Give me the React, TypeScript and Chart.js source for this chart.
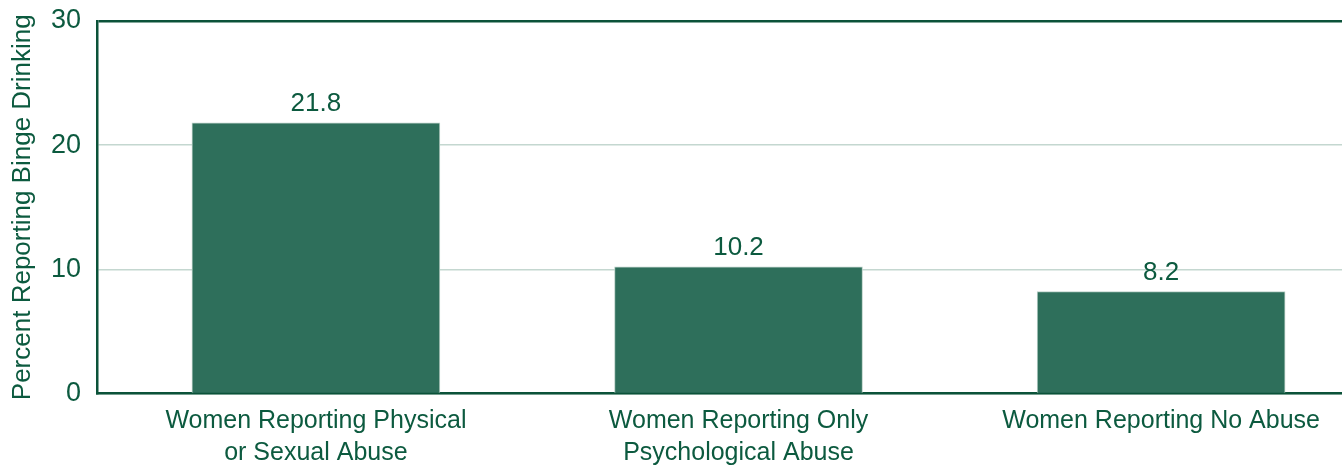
import React, { useEffect, useRef } from "react";
import { Chart, registerables } from "chart.js";

Chart.register(...registerables);

const categoryLabels: string[][] = [
  ["Women Reporting Physical", "or Sexual Abuse"],
  ["Women Reporting Only", "Psychological Abuse"],
  ["Women Reporting No Abuse"],
];
const categoryPositions: number[] = [0, 1, 2];
const values: number[] = [21.8, 10.2, 8.2];
const valueLabels: string[] = ["21.8", "10.2", "8.2"];
const yTicks: number[] = [0, 10, 20, 30];
const yTitle = "Percent Reporting Binge Drinking";

const FONT = "'Liberation Sans', Arial, sans-serif";
const TEXT = "#0c5a3f";
const AXIS = "#0b5239";
const GRID = "#c4d7d0";
const BAR = "#2e6f5b";
const BAR_EDGE = "#b9cfc6";

const valueLabelPlugin = {
  id: "valueLabels",
  afterDatasetsDraw(chart: any) {
    const ctx = chart.ctx;
    const meta = chart.getDatasetMeta(0);
    ctx.save();
    ctx.font = `26px ${FONT}`;
    ctx.fillStyle = TEXT;
    ctx.textAlign = "center";
    ctx.textBaseline = "alphabetic";
    meta.data.forEach((el: any, i: number) => {
      ctx.fillText(valueLabels[i], el.x, el.y - 12);
    });
    ctx.restore();
  },
};

export default function App() {
  const ref = useRef<HTMLCanvasElement | null>(null);
  useEffect(() => {
    if (!ref.current) return;
    const chart = new Chart(ref.current, {
      type: "bar",
      data: {
        datasets: [
          {
            data: categoryPositions.map((x, i) => ({ x, y: values[i] })),
            backgroundColor: BAR,
            borderColor: BAR_EDGE,
            borderWidth: 1,
            barThickness: 248,
          } as any,
        ],
      },
      plugins: [valueLabelPlugin],
      options: {
        animation: false,
        responsive: true,
        maintainAspectRatio: false,
        layout: { padding: { top: 21, right: 0, left: 0, bottom: 0 } },
        plugins: { legend: { display: false }, tooltip: { enabled: false } },
        scales: {
          x: {
            type: "linear",
            offset: false,
            min: -0.518,
            max: 2.428,
            afterBuildTicks: (axis: any) => {
              axis.ticks = categoryPositions.map((v) => ({ value: v }));
            },
            afterFit: (scale: any) => {
              scale.height = 74.5;
              scale.paddingLeft = 0;
              scale.paddingRight = 0;
            },
            grid: { display: false, drawTicks: false, offset: false },
            border: { display: true, color: AXIS, width: 2.5 },
            ticks: {
              autoSkip: false,
              maxRotation: 0,
              padding: 11,
              color: TEXT,
              font: { family: FONT, size: 25, lineHeight: 1.3 },
              callback: (value: any) => categoryLabels[Number(value)] ?? "",
            },
          },
          y: {
            min: 0,
            max: 30,
            afterBuildTicks: (axis: any) => {
              axis.ticks = yTicks.map((v) => ({ value: v }));
            },
            afterFit: (scale: any) => {
              scale.width = 97;
              scale.paddingTop = 0;
              scale.paddingBottom = 0;
            },
            grid: {
              drawTicks: false,
              color: (c: any) => (c.tick && c.tick.value === 30 ? AXIS : GRID),
              lineWidth: (c: any) => (c.tick && c.tick.value === 30 ? 2.5 : 1.5),
            },
            border: { display: true, color: AXIS, width: 2.5 },
            ticks: {
              padding: 16,
              color: TEXT,
              font: { family: FONT, size: 27 },
            },
            title: {
              display: true,
              text: yTitle,
              color: TEXT,
              font: { family: FONT, size: 26 },
              padding: { top: 7, bottom: 0 },
            },
          },
        },
      },
    });
    return () => chart.destroy();
  }, []);
  return (
    <div style={{ position: "absolute", left: 0, top: 0, width: 1342, height: 468 }}>
      <canvas ref={ref} />
    </div>
  );
}
